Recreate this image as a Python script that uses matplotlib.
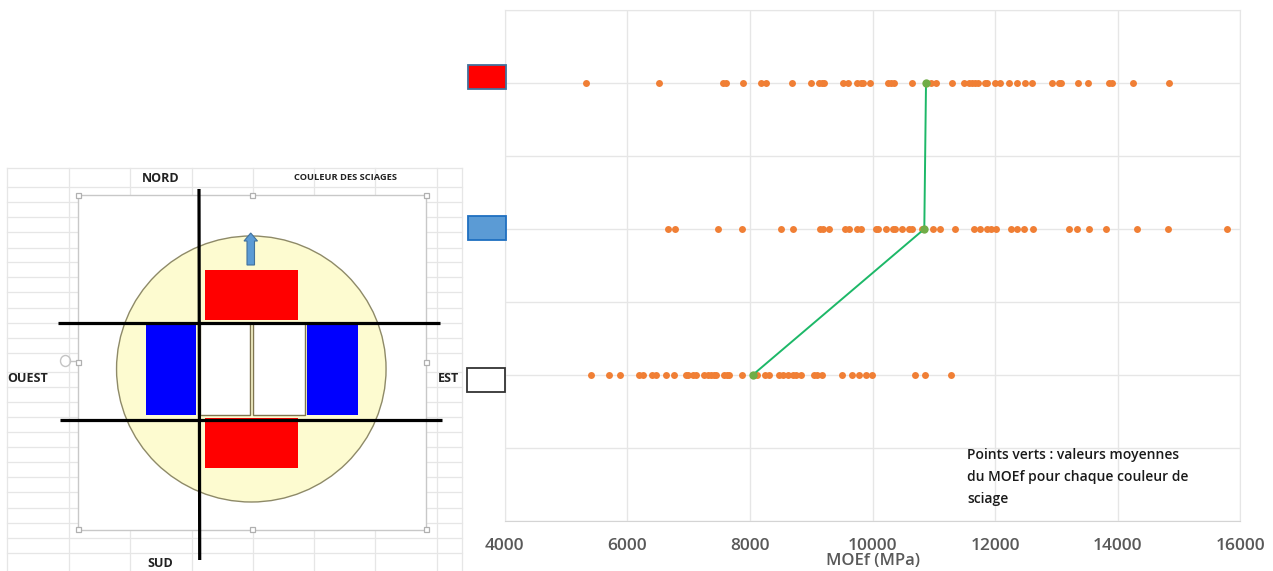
import matplotlib
matplotlib.use("Agg")
import matplotlib.pyplot as plt
from matplotlib.patches import Rectangle, Ellipse, Polygon

# MOEf values, one list per colour
moef_rouge = [5326, 6523, 7567, 7605, 7888, 8181, 8263, 8687, 8991, 9133, 9171, 9209,
              9513, 9600, 9742, 9807, 9845, 9965, 10258, 10296, 10356, 10650, 10960,
              11036, 11302, 11487, 11574, 11623, 11672, 11726, 11830, 11873, 12004,
              12080, 12232, 12352, 12493, 12596, 12934, 13042, 13080, 13352, 13521,
              13853, 13912, 14244, 14842]
moef_bleu = [6670, 6784, 7480, 7866, 8502, 8698, 9144, 9187, 9296, 9557, 9617, 9742,
             9813, 10052, 10095, 10215, 10340, 10372, 10476, 10601, 10644, 10802,
             10992, 11096, 11340, 11661, 11754, 11862, 11928, 12015, 12254, 12363,
             12471, 12618, 13205, 13341, 13532, 13814, 14309, 14820, 15778]
moef_blanc = [5408, 5702, 5881, 6196, 6262, 6409, 6474, 6637, 6768, 6958, 6990, 7077,
              7121, 7246, 7322, 7366, 7414, 7453, 7583, 7621, 7665, 7866, 8121, 8246,
              8317, 8474, 8545, 8616, 8708, 8751, 8833, 9045, 9089, 9181, 9502, 9670,
              9774, 9899, 9991, 10687, 10856, 11275]
rangs = [6, 4, 2]
moyennes = [10873, 10845, 8045]
xticks = [4000, 6000, 8000, 10000, 12000, 14000, 16000]
lignes_tableur = [168, 187, 202, 217, 232, 248, 262, 277, 292, 308, 323, 338, 353,
                  372, 387, 402, 417, 432, 447, 462, 477, 492, 508, 523, 538, 553]
colonnes_tableur = [7, 68.7, 130, 191.7, 252.7, 314, 375, 437, 462]

plt.rcParams["font.family"] = ["Open Sans", "DejaVu Sans"]

W, H = 1273, 571
fig = plt.figure(figsize=(W / 100, H / 100), dpi=100)

# scatter on the right
ax = fig.add_axes([504.7 / W, (H - 521) / H, 735.6 / W, 511 / H])
for v, r in zip([moef_rouge, moef_bleu, moef_blanc], rangs):
    ax.scatter(v, [r] * len(v), s=25, color="#F07F35", linewidths=0, zorder=3)
ax.plot(moyennes, rangs, color="#1DB868", lw=1.4, zorder=4)
ax.scatter(moyennes, rangs, s=36, color="#70AD47", linewidths=0, zorder=5)
ax.set_xlim(4000, 16000)
ax.set_ylim(0, 7)
ax.set_xticks(xticks)
ax.set_yticks(range(8))
ax.grid(True, color="#E6E6E6", lw=1)
ax.set_axisbelow(True)
ax.tick_params(length=0, labelleft=False, pad=12)
for lab in ax.get_xticklabels():
    lab.set_fontsize(12.5)
    lab.set_color("#595959")
    lab.set_fontweight(600)
for s in ["top", "right", "left"]:
    ax.spines[s].set_color("#E6E6E6")
ax.spines["bottom"].set_color("#D4D4D4")

# overlay in pixel coordinates for the diagram, swatches and notes
ov = fig.add_axes([0, 0, 1, 1], zorder=5)
ov.set_xlim(0, W)
ov.set_ylim(H, 0)
ov.axis("off")

# spreadsheet background
for y in lignes_tableur:
    ov.plot([7, 462], [y, y], color="#E6E6E6", lw=0.9, zorder=1)
for x in colonnes_tableur:
    ov.plot([x, x], [168, 571], color="#E6E6E6", lw=0.9, zorder=1)

# selected picture with its handles
ov.add_patch(Rectangle((78, 195), 348, 334.5, fc="white", ec="#C8C8C8", lw=1, zorder=2))
for hx in [78, 252, 426]:
    for hy in [195, 362, 529.5]:
        if hx == 252 and hy == 362:
            continue
        ov.add_patch(Rectangle((hx - 2.5, hy - 2.5), 5, 5, fc="white", ec="#B0B0B0", lw=0.9, zorder=3))
ov.add_patch(Ellipse((65.5, 361), 10, 11, fc="none", ec="#C4C4C4", lw=1, zorder=3))
ov.plot([70, 75], [361, 361], color="#C4C4C4", lw=1, zorder=3)

# log section
ov.add_patch(Ellipse((251.3, 369), 269.5, 266, fc="#FDFBD0", ec="#8E8A68", lw=1, zorder=3))
ov.add_patch(Rectangle((205, 269.5), 93, 50.5, fc="#FF0000", ec="none", zorder=4))
ov.add_patch(Rectangle((205, 417.5), 93, 50.5, fc="#FF0000", ec="none", zorder=4))
ov.add_patch(Rectangle((145.7, 323), 50.5, 92, fc="#0000FF", ec="none", zorder=4))
ov.add_patch(Rectangle((307.3, 323), 51, 92, fc="#0000FF", ec="none", zorder=4))
ov.add_patch(Rectangle((200, 323), 49.5, 92, fc="white", ec="#7F7550", lw=1, zorder=4))
ov.add_patch(Rectangle((253.3, 323), 51.4, 92, fc="white", ec="#7F7550", lw=1, zorder=4))
ov.add_patch(Polygon([(247, 265), (254.5, 265), (254.5, 241), (257.5, 241), (250.7, 233),
                      (244, 241), (247, 241)], fc="#5B9BD5", ec="#41719C", lw=0.8, zorder=5))
ov.plot([58, 440], [322.7, 322.7], color="black", lw=2.3, solid_capstyle="butt", zorder=6)
ov.plot([60, 442], [419.7, 419.7], color="black", lw=2.3, solid_capstyle="butt", zorder=6)
ov.plot([199, 199.7], [189, 560], color="black", lw=2.3, solid_capstyle="butt", zorder=6)

# labels of the diagram
ov.text(160.5, 178.5, "NORD", fontsize=9, fontweight="bold", color="#222222", ha="center", va="center", zorder=7)
ov.text(345, 177.5, "COULEUR DES SCIAGES", fontsize=6.7, fontweight="bold", color="#222222", ha="center", va="center", zorder=7)
ov.text(28, 378.5, "OUEST", fontsize=9, fontweight="bold", color="#222222", ha="center", va="center", zorder=7)
ov.text(448.5, 378.5, "EST", fontsize=9, fontweight="bold", color="#222222", ha="center", va="center", zorder=7)
ov.text(160.5, 563.5, "SUD", fontsize=9, fontweight="bold", color="#222222", ha="center", va="center", zorder=7)

# colour swatches
ov.add_patch(Rectangle((467.5, 65), 38.5, 24, fc="#FF0000", ec="#41719C", lw=1.3, zorder=7))
ov.add_patch(Rectangle((468, 216), 38, 24, fc="#5B9BD5", ec="#1F6FC0", lw=1.3, zorder=7))
ov.add_patch(Rectangle((467, 368), 38, 24, fc="white", ec="#333333", lw=1.3, zorder=7))

# notes
ov.text(967, 455, "Points verts : valeurs moyennes", fontsize=10, fontweight=600, color="#1A1A1A", va="center", zorder=7)
ov.text(967, 477.5, "du MOEf pour chaque couleur de", fontsize=10, fontweight=600, color="#1A1A1A", va="center", zorder=7)
ov.text(967, 498.5, "sciage", fontsize=10, fontweight=600, color="#1A1A1A", va="center", zorder=7)
ov.text(873, 561, "MOEf (MPa)", fontsize=12, fontweight=600, color="#595959", ha="center", va="center", zorder=7)

fig.savefig("out.png", dpi=100)
